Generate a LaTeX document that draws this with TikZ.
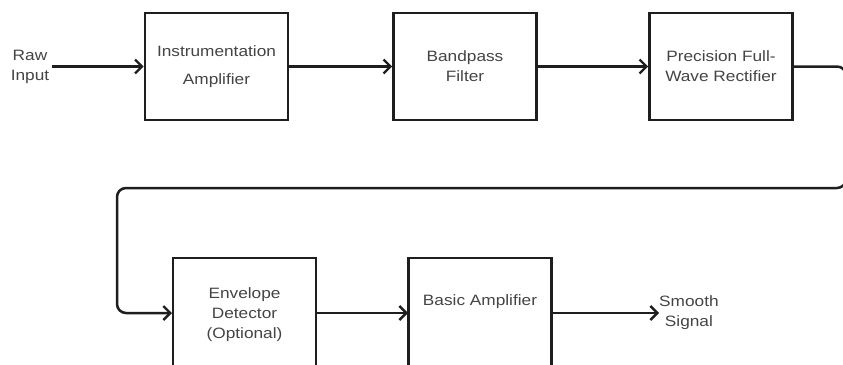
\documentclass[tikz,border=0pt]{standalone}
\usepackage{fontspec}
\setmainfont[FakeStretch=1.15]{Liberation Sans}
\usetikzlibrary{arrows.meta}
\definecolor{linec}{HTML}{1E1E1E}
\definecolor{textc}{HTML}{444444}
\begin{document}
\begin{tikzpicture}[x=1pt,y=-1pt,
  txt/.style={text=textc, font=\fontsize{15}{20}\selectfont, align=center, inner sep=0pt},
  box/.style={txt, draw=linec, line width=2.6pt, minimum width=143pt, minimum height=107pt, fill=white},
  lowbox/.style={box, minimum height=114pt},
  conn/.style={draw=linec, line width=2.5pt, -{Straight Barb[length=7pt,width=14pt,line width=2.4pt]}}]
\useasboundingbox (0,0) rectangle (843,364);
\clip (0,0) rectangle (843,364);
\fill[white] (0,0) rectangle (843,364);
% top row
\node[txt] (raw) at (30,67) {Raw\\Input};
\node[box] (b1) at (216.5,66.5) {Instrumentation\\[8pt]Amplifier};
\node[box] (b2) at (465,66.5) {Bandpass\\Filter};
\node[box] (b3) at (721,66.5) {Precision Full-\\Wave Rectifier};
% bottom row
\node[lowbox] (b4) at (244.5,315) {Envelope\\Detector\\(Optional)};
\node[lowbox] (b5) at (480,315) {};
\node[txt] (b5t) at (480,302) {Basic Amplifier};
\node[txt, anchor=west] (out) at (659,312.5) {Smooth\\Signal};
% connectors
\draw[conn] ([xshift=3pt]raw.east |- b1.west) -- (b1.west);
\draw[conn] (b1.east) -- (b2.west);
\draw[conn] (b2.east) -- (b3.west);
\coordinate (c1) at (846,66.5);
\coordinate (c2) at (846,188);
\coordinate (c3) at (117,188);
\coordinate (c4) at (117,313);
\coordinate (e4) at (172,313);
\coordinate (e5) at (408,313);
\draw[conn, rounded corners=9pt] (b3.east) -- (c1) -- (c2) -- (c3) -- (c4) -- (e4);
\draw[conn] (b4.east |- e4) -- (e5);
\draw[conn] (b5.east |- e5) -- (out.west |- e5);
\end{tikzpicture}
\end{document}
